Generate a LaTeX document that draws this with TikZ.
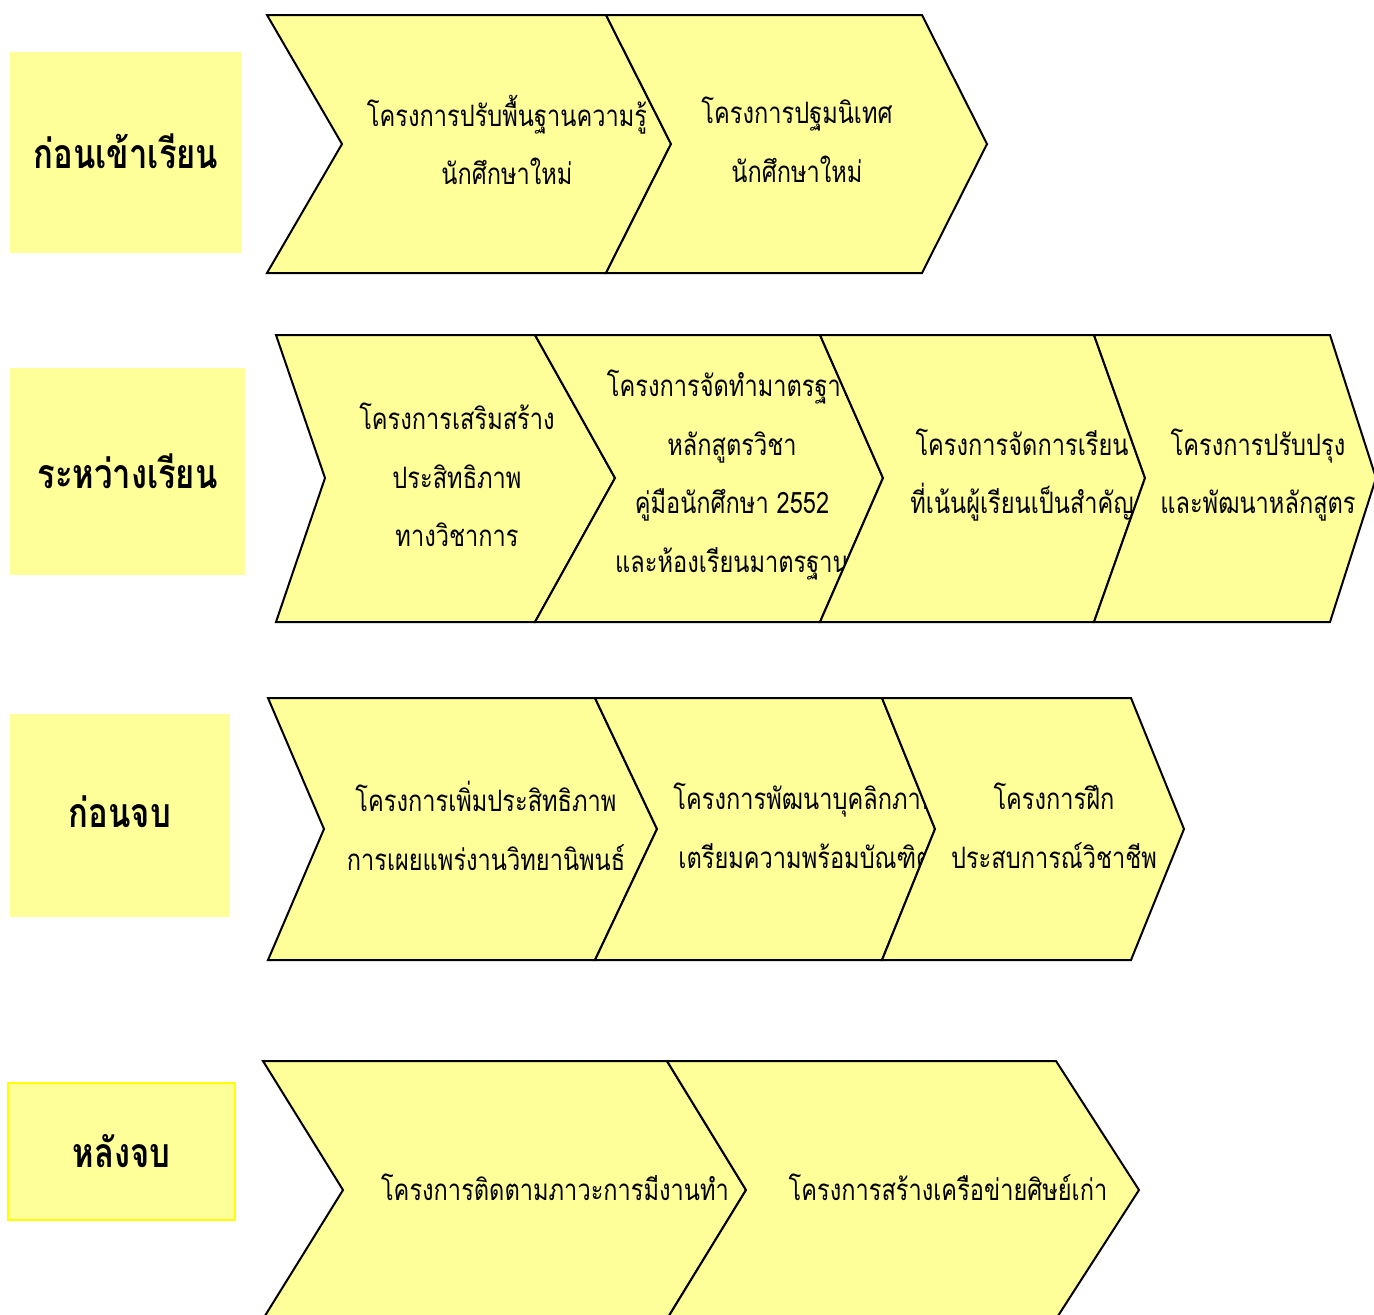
\documentclass[tikz,border=0pt]{standalone}
\usepackage{fontspec}
\newfontfamily\thaifont[Script=Thai,FakeStretch=0.8]{Loma}
\definecolor{chevfill}{HTML}{FFFF99}
\definecolor{boxline}{HTML}{FFFF00}

\tikzset{
    chev/.style={draw=black, line width=2pt, fill=chevfill, line join=miter},
    stage/.style={fill=chevfill, inner sep=0pt,
        font=\thaifont\bfseries\fontsize{41}{48}\selectfont},
    proj/.style={align=center, inner sep=0pt, yshift=3pt,
        font=\thaifont\fontsize{29.5}{58.5}\selectfont},
}
% #1 left x, #2 right x, #3 top, #4 middle, #5 bottom, #6 notch depth, #7 tip depth
\newcommand{\chevshape}[7]{%
    \draw[chev] (#1,#3) -- (#2,#3) -- ({#2+#7},#4) -- (#2,#5) -- (#1,#5) -- ({#1+#6},#4) -- cycle;}

\begin{document}
\begin{tikzpicture}[x=1pt, y=-1pt]
    \useasboundingbox (0,0) rectangle (1374,1315);

    \node[stage, minimum width=232pt, minimum height=201pt] (lbpre) at (126,152.5) {\raisebox{3pt}{ก่อนเข้าเรียน}};
    \node[stage, minimum width=235pt, minimum height=207pt] (lbdur) at (127.5,471.5) {ระหว่างเรียน};
    \node[stage, minimum width=220pt, minimum height=203pt] (lbfin) at (120,815.5) {\raisebox{8pt}{ก่อนจบ}};
    \node[stage, draw=boxline, line width=2pt, minimum width=227pt, minimum height=137pt] (lbpost) at (121.5,1151.5) {หลังจบ};

    \chevshape{267}{606}{15}{144}{273}{75}{65}
    \node[proj] (pre1) at (507,143) {โครงการปรับพื้นฐานความรู้\\นักศึกษาใหม่};
    \chevshape{606}{922}{15}{144}{273}{65}{65}
    \node[proj] (pre2) at (797,143) {โครงการปฐมนิเทศ\\นักศึกษาใหม่};

    \chevshape{276}{535}{335}{478}{622}{49}{80}
    \node[proj] (dur1) at (457,478) {โครงการเสริมสร้าง\\ประสิทธิภาพ\\ทางวิชาการ};
    \chevshape{535}{820}{335}{478}{622}{80}{63}
    \node[proj] (dur2) at (732,478) {โครงการจัดทำมาตรฐาน\\หลักสูตรวิชา\\คู่มือนักศึกษา 2552\\และห้องเรียนมาตรฐาน};
    \chevshape{820}{1094}{335}{478}{622}{63}{51}
    \node[proj] (dur3) at (1022,478) {โครงการจัดการเรียน\\ที่เน้นผู้เรียนเป็นสำคัญ};
    \chevshape{1094}{1330}{335}{478}{622}{51}{46}
    \node[proj] (dur4) at (1258,478) {โครงการปรับปรุง\\และพัฒนาหลักสูตร};

    \chevshape{268}{595}{698}{829}{960}{56}{62}
    \node[proj] (fin1) at (486,829) {โครงการเพิ่มประสิทธิภาพ\\การเผยแพร่งานวิทยานิพนธ์};
    \chevshape{595}{882}{698}{829}{960}{62}{53}
    \node[proj] (fin2) at (805,829) {โครงการพัฒนาบุคลิกภาพ\\เตรียมความพร้อมบัณฑิต};
    \chevshape{882}{1131}{698}{829}{960}{53}{53}
    \node[proj] (fin3) at (1054,829) {โครงการฝึก\\ประสบการณ์วิชาชีพ};

    \chevshape{263}{667}{1061}{1190}{1319}{80}{79}
    \node[proj] (post1) at (555,1190) {โครงการติดตามภาวะการมีงานทำ};
    \chevshape{667}{1056}{1061}{1190}{1319}{79}{83}
    \node[proj] (post2) at (948,1190) {โครงการสร้างเครือข่ายศิษย์เก่า};
\end{tikzpicture}
\end{document}
